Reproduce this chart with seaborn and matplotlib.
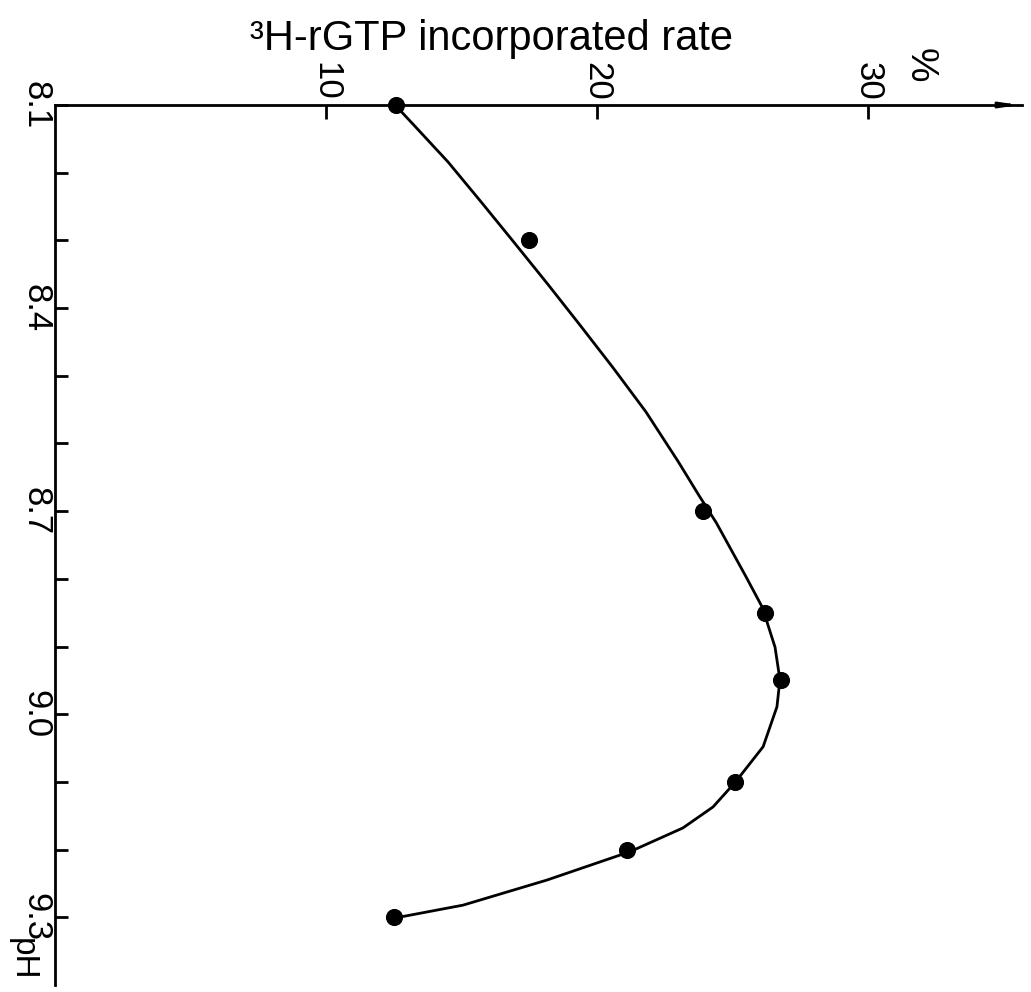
import matplotlib
matplotlib.use("Agg")
import matplotlib.pyplot as plt
from matplotlib import font_manager
import seaborn as sns

# Measured data points (pH vs. 3H-rGTP incorporated rate, %)
ph = [8.10, 8.30, 8.70, 8.85, 8.95, 9.10, 9.20, 9.30]
rate = [12.6, 17.5, 23.9, 26.2, 26.8, 25.1, 21.1, 12.5]

# Hand-drawn fitted curve
curve_ph = [8.100, 8.130, 8.184, 8.243, 8.302, 8.363, 8.425, 8.488, 8.553,
            8.627, 8.676, 8.717, 8.797, 8.842, 8.901, 8.949, 8.989, 9.048,
            9.101, 9.137, 9.168, 9.203, 9.245, 9.282, 9.301]
curve_rate = [12.55, 13.25, 14.50, 15.72, 16.92, 18.15, 19.37, 20.59, 21.80,
              23.00, 23.75, 24.40, 25.50, 26.10, 26.57, 26.75, 26.64, 26.13,
              25.09, 24.28, 23.17, 21.22, 18.15, 15.06, 12.55]

x_ticks = [10, 20, 30]
x_tick_labels = ["10", "20", "30"]
y_ticks = [8.1, 8.4, 8.7, 9.0, 9.3]
y_tick_labels = ["8.1", "8.4", "8.7", "9.0", "9.3"]
y_minor = [8.2, 8.3, 8.5, 8.6, 8.8, 8.9, 9.1, 9.2]

title = "\u00b3H-rGTP incorporated rate"
unit = "%"
y_name = "pH"

sns.set_style("white")
installed = {f.name for f in font_manager.fontManager.ttflist}
fam = [f for f in ["Liberation Sans Narrow", "Liberation Sans", "DejaVu Sans"] if f in installed]
plt.rcParams["font.family"] = fam
plt.rcParams["text.color"] = "black"
plt.rcParams["xtick.color"] = "black"
plt.rcParams["ytick.color"] = "black"
plt.rcParams["axes.edgecolor"] = "black"

W, H = 1031, 992
fig = plt.figure(figsize=(W / 100, H / 100), dpi=100)
ax = fig.add_axes([55 / W, 7 / H, 967 / W, 880 / H])

sns.lineplot(x=curve_rate, y=curve_ph, sort=False, estimator=None, color="black",
             linewidth=2.0, ax=ax, clip_on=False, solid_joinstyle="round")
sns.scatterplot(x=rate, y=ph, s=130, color="black", edgecolor="black", ax=ax,
                zorder=3, clip_on=False)

ax.set_xlim(0, 967 / 27.1)
ax.set_ylim(9.40, 8.10)
ax.grid(False)

for side in ["right", "bottom"]:
    ax.spines[side].set_visible(False)
for side in ["top", "left"]:
    ax.spines[side].set_linewidth(2.0)
    ax.spines[side].set_color("black")

ax.xaxis.tick_top()
ax.set_xticks(x_ticks)
ax.set_xticklabels(x_tick_labels)
ax.set_yticks(y_ticks)
ax.set_yticklabels(y_tick_labels)
ax.set_yticks(y_minor, minor=True)
ax.tick_params(axis="x", which="major", direction="in", length=10, width=2,
               pad=3, labelsize=25, labelrotation=-90, top=True, bottom=False,
               labelcolor="black")
ax.tick_params(axis="y", which="both", direction="in", length=9, width=2,
               pad=2, labelsize=25, labelrotation=-90, left=True, right=False,
               labelcolor="black")
for lbl in ax.get_yticklabels():
    lbl.set_va("center")

ax.set_xlabel("")
ax.set_ylabel("")

ax.annotate("", xy=(1.0, 1.0), xytext=(0.975, 1.0), xycoords="axes fraction",
            arrowprops=dict(arrowstyle="-|>,head_length=1.0,head_width=0.15",
                            color="black", lw=2), annotation_clip=False)

fig.text(250 / W, 1 - 50 / H, title, fontsize=30, va="baseline", ha="left", color="black")
fig.text(920 / W, 1 - 65 / H, unit, fontsize=28, rotation=-90, ha="center", va="center", color="black")
fig.text(22 / W, 1 - 959 / H, y_name, fontsize=24, rotation=-90, ha="center", va="center", color="black")

fig.savefig("out.png", dpi=100, facecolor="white")
